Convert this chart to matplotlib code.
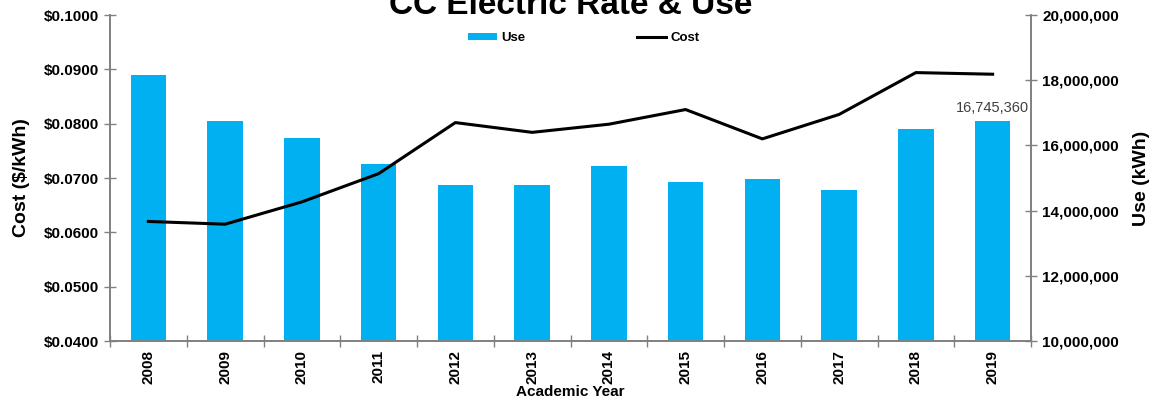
import numpy as np
import matplotlib
matplotlib.use('Agg')
import matplotlib.pyplot as plt
from matplotlib.ticker import FuncFormatter, FixedLocator
from matplotlib.patches import Patch
from matplotlib.lines import Line2D

plt.rcParams['font.family'] = ['Liberation Sans', 'DejaVu Sans']

years = ['2008', '2009', '2010', '2011', '2012', '2013',
         '2014', '2015', '2016', '2017', '2018', '2019']
use_kwh = [18150000, 16760000, 16220000, 15440000, 14790000, 14790000,
           15360000, 14890000, 14980000, 14620000, 16490000, 16745360]
cost = [0.0620, 0.0615, 0.0656, 0.0708, 0.0802, 0.0784,
        0.0799, 0.0826, 0.0772, 0.0817, 0.0894, 0.0891]

BLUE = '#00B0F0'
GREY = '#808080'

fig = plt.figure(figsize=(11.6, 4.03), dpi=100)
ax = fig.add_axes([110 / 1160, 1 - 341 / 403, 921 / 1160, 326 / 403])
ax2 = ax.twinx()

x = np.arange(len(years))

# bars on the right axis, line on the left axis -> bars must sit behind line
ax.set_zorder(2)
ax.patch.set_visible(False)
ax2.set_zorder(1)

ax2.bar(x, use_kwh, width=0.46, color=BLUE, zorder=2)
ax2.set_ylim(10000000, 20000000)
ax2.set_yticks(np.arange(10000000, 20000001, 2000000))
ax2.yaxis.set_major_formatter(FuncFormatter(lambda v, p: f'{v:,.0f}'))
ax2.text(x[-1], use_kwh[-1] + 180000, f'{use_kwh[-1]:,}', ha='center', va='bottom',
         fontsize=10.5, color='#404040')

ax.plot(x, cost, color='black', linewidth=2.2, zorder=3)
ax.set_ylim(0.04, 0.10)
ax.set_yticks(np.arange(0.04, 0.1001, 0.01))
ax.yaxis.set_major_formatter(FuncFormatter(lambda v, p: f'${v:.4f}'))
ax.set_xlim(-0.5, len(years) - 0.5)
ax.set_xticks(x)
ax.set_xticklabels(years, rotation=90, fontweight='bold', fontsize=11)
ax.xaxis.set_minor_locator(FixedLocator(np.arange(-0.5, len(years), 1.0)))
ax.tick_params(axis='x', which='major', length=0, pad=6.5)
ax.tick_params(axis='x', which='minor', length=8, direction='inout', color=GREY, width=1)

for a in (ax, ax2):
    for s in a.spines.values():
        s.set_color(GREY)
        s.set_linewidth(1.2)
    a.spines['top'].set_visible(False)
    a.tick_params(axis='y', length=8, direction='inout', color=GREY, width=1,
                  labelsize=11, pad=4)
    for lab in a.get_yticklabels():
        lab.set_fontweight('bold')

ax.set_ylabel('Cost ($/kWh)', fontsize=14, fontweight='bold', labelpad=10)
ax2.set_ylabel('Use (kWh)', fontsize=14, fontweight='bold', labelpad=10)
ax.set_xlabel('Academic Year', fontsize=11, fontweight='bold', labelpad=1)

fig.text(0.492, 1 - 14 / 403, 'CC Electric Rate & Use', ha='center', va='baseline',
         fontsize=24, fontweight='bold')

handles = [Patch(facecolor=BLUE, label='Use'),
           Line2D([0], [0], color='black', linewidth=2.2, label='Cost')]
fig.legend(handles=handles, loc='center', bbox_to_anchor=(0.503, 1 - 38 / 403), ncol=2,
           frameon=False, prop={'weight': 'bold', 'size': 9.5}, columnspacing=8.5,
           handlelength=2.2, handleheight=0.5, handletextpad=0.3)

fig.savefig('out.png', dpi=100)
